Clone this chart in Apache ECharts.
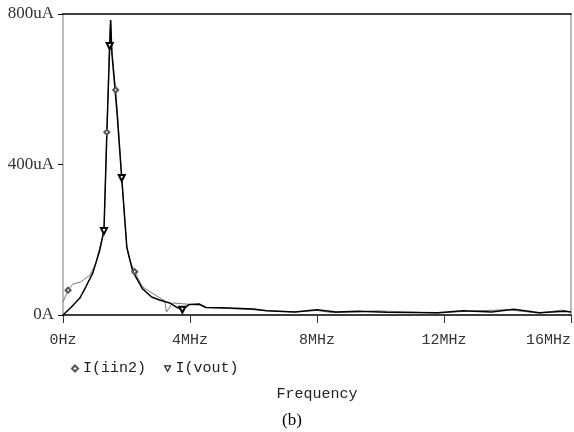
<!DOCTYPE html>
<html>
<head>
<meta charset="utf-8">
<script src="https://cdn.jsdelivr.net/npm/echarts@6/dist/echarts.min.js"></script>
<style>
  html, body { margin: 0; padding: 0; background: #fff; }
  #chart { width: 574px; height: 432px; }
</style>
</head>
<body>
<div id="chart"></div>
<script>
// frequency in MHz, current in uA
var iin2Freq = [0, 0.16, 0.31, 0.56, 0.85, 1.04, 1.19, 1.29, 1.38, 1.47, 1.5, 1.54, 1.66, 1.73, 1.85, 2.01, 2.1, 2.26, 2.5, 3.0, 3.2, 3.26, 3.45, 3.76, 4.0, 4.3, 4.5, 5.0, 5.8, 6.4, 7.3, 8.0, 8.5, 9.2, 9.9, 11.8, 12.7, 14.0, 15.0, 15.7, 16];
var iin2Vals = [35, 66, 82, 88, 106, 138, 191, 221, 486, 740, 784, 700, 598, 518, 364, 180, 145, 115, 75, 48, 38, 8, 32, 30, 28, 26, 20, 18, 15, 12, 8, 12, 6, 8, 11, 5, 10, 14, 5, 13, 8];
var iin2Marks = [0.16, 1.38, 1.66, 2.26];

var voutFreq = [0, 0.25, 0.53, 0.72, 0.94, 1.16, 1.26, 1.29, 1.38, 1.47, 1.5, 1.54, 1.7, 1.85, 2.01, 2.2, 2.5, 2.79, 3.04, 3.36, 3.55, 3.76, 3.98, 4.3, 4.5, 5.0, 6.0, 6.4, 7.3, 8.0, 8.6, 9.3, 10.2, 11.8, 12.6, 13.5, 14.2, 15.0, 15.8, 16];
var voutVals = [0, 20, 45, 75, 112, 173, 213, 223, 480, 715, 784, 696, 540, 364, 180, 115, 70, 48, 40, 32, 22, 14, 28, 29, 20, 19, 16, 11, 8, 14, 8, 10, 7, 6, 11, 8, 15, 6, 10, 8];
var voutMarks = [1.29, 1.47, 1.85, 3.76];

var xTicks = [0, 4, 8, 12, 16];
var yTicks = [0, 400, 800];

function build(freq, vals, marks, sym) {
    return freq.map(function (f, i) {
        return {
            value: [f, vals[i]],
            symbol: marks.indexOf(f) >= 0 ? sym : 'none'
        };
    });
}

var chart = echarts.init(document.getElementById('chart'));
var option = {
    animation: false,
    backgroundColor: '#fff',
    grid: { left: 63, right: 2, top: 14, bottom: 117 },
    title: {
        text: '(b)',
        left: 287, top: 407,
        textAlign: 'center',
        textStyle: { fontFamily: 'Liberation Serif', fontSize: 17, fontWeight: 'normal', color: '#000' }
    },
    legend: {
        left: 66, top: 356,
        itemWidth: 6, itemHeight: 6, itemGap: 18,
        textStyle: { fontFamily: 'Liberation Mono', fontSize: 15, color: '#222' },
        data: [
            { name: 'I(iin2)', icon: 'emptyDiamond', itemStyle: { color: '#555', borderColor: '#555', borderWidth: 1 } },
            { name: 'I(vout)', icon: 'path://M0,0 L10,0 L5,9 Z', itemStyle: { color: '#fff', borderColor: '#222', borderWidth: 1.2 } }
        ]
    },
    xAxis: [{
        type: 'value', min: xTicks[0], max: xTicks[xTicks.length - 1], interval: 4,
        name: 'Frequency', nameLocation: 'middle', nameGap: 72,
        nameTextStyle: { fontFamily: 'Liberation Mono', fontSize: 15, color: '#222' },
        axisLine: { onZero: false, lineStyle: { color: '#000', width: 1.5 } },
        axisTick: { show: true, length: 8, inside: false, lineStyle: { color: '#333' } },
        axisLabel: {
            margin: 18, fontFamily: 'Liberation Mono', fontSize: 15, color: '#333',
            alignMaxLabel: 'right',
            formatter: function (v) { return v === 0 ? '0Hz' : v + 'MHz'; }
        },
        splitLine: { show: false }
    }, {
        type: 'value', position: 'top', min: 0, max: 16,
        axisLine: { show: true, onZero: false, lineStyle: { color: '#000', width: 1.5 } },
        axisTick: { show: false }, axisLabel: { show: false }, splitLine: { show: false }
    }],
    yAxis: [{
        type: 'value', min: yTicks[0], max: yTicks[yTicks.length - 1], interval: 400,
        axisLine: { show: true, onZero: false, lineStyle: { color: '#bbb', width: 2 } },
        axisTick: { show: true, length: 5, lineStyle: { color: '#000' } },
        axisLabel: {
            margin: 9, fontFamily: 'Liberation Serif', fontSize: 17, color: '#333',
            formatter: function (v) { return v === 0 ? '0A' : v + 'uA'; }
        },
        splitLine: { show: false }
    }, {
        type: 'value', position: 'right', min: 0, max: 800,
        axisLine: { show: true, onZero: false, lineStyle: { color: '#bbb', width: 2 } },
        axisTick: { show: false }, axisLabel: { show: false }, splitLine: { show: false }
    }],
    series: [{
        name: 'I(iin2)', type: 'line',
        symbolSize: 5,
        itemStyle: { color: '#555', borderWidth: 1 },
        lineStyle: { color: '#777', width: 1 },
        data: build(iin2Freq, iin2Vals, iin2Marks, 'emptyDiamond')
    }, {
        name: 'I(vout)', type: 'line',
        symbolSize: 6, symbolRotate: 180,
        itemStyle: { color: '#000', borderWidth: 1.5 },
        lineStyle: { color: '#000', width: 1.5 },
        data: build(voutFreq, voutVals, voutMarks, 'emptyTriangle')
    }]
};
chart.setOption(option);
</script>
</body>
</html>
